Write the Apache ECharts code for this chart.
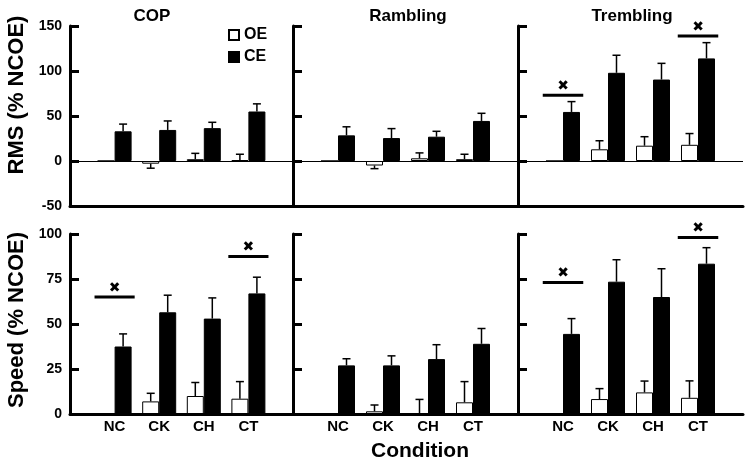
<!DOCTYPE html>
<html><head><meta charset="utf-8">
<script src="https://cdn.jsdelivr.net/npm/echarts@6/dist/echarts.min.js"></script>
<style>html,body{margin:0;padding:0;background:#fff}#c{width:749px;height:463px}</style>
</head><body><div id="c"></div>
<script>
// ---------- data ----------
const categories = ['NC', 'CK', 'CH', 'CT'];
const panelTitles = ['COP', 'Rambling', 'Trembling'];
const legendNames = ['OE', 'CE'];
const rowNames = ['RMS (% NCOE)', 'Speed (% NCOE)'];
const xTitle = 'Condition';

// RMS (top row)
const rmsCopOE = [0, -3, 2, 1];
const rmsCopOEErr = [0, 5, 6.5, 6.5];
const rmsCopCE = [33, 34.5, 36.5, 55];
const rmsCopCEErr = [8, 10, 6.5, 8.5];
const rmsRamOE = [0, -5, 3, 2];
const rmsRamOEErr = [0, 3.5, 6, 5.5];
const rmsRamCE = [28.5, 25.5, 27, 44.5];
const rmsRamCEErr = [9.5, 10.5, 6, 8.5];
const rmsTreOE = [0, 13, 17, 18];
const rmsTreOEErr = [0, 9.5, 10, 12.5];
const rmsTreCE = [54.5, 98, 90.5, 114];
const rmsTreCEErr = [11.5, 19.5, 18, 17.5];
const rmsCopSig = [null, null, null, null];
const rmsRamSig = [null, null, null, null];
const rmsTreSig = [73, null, null, 139];

// Speed (bottom row)
const spdCopOE = [0, 7, 10, 8.5];
const spdCopOEErr = [0, 4.5, 7.5, 9.5];
const spdCopCE = [37.5, 56.5, 53, 67];
const spdCopCEErr = [7, 9.5, 11.5, 9];
const spdRamOE = [0, 1.5, 0.3, 6.5];
const spdRamOEErr = [0, 3.5, 7.8, 11.5];
const spdRamCE = [27, 27, 30.5, 39];
const spdRamCEErr = [3.7, 5.3, 8, 8.5];
const spdTreOE = [0, 8.3, 12, 9];
const spdTreOEErr = [0, 5.8, 6.3, 9.4];
const spdTreCE = [44.5, 73.5, 65, 83.5];
const spdTreCEErr = [8.5, 12.2, 15.7, 8.9];
const spdCopSig = [65, null, null, 87.5];
const spdRamSig = [null, null, null, null];
const spdTreSig = [73, null, null, 98];

// axis scales
const rmsMin = -50, rmsMax = 150, rmsStep = 50;
const spdMin = 0, spdMax = 100, spdStep = 25;

// ---------- layout / style ----------
const FONT = 'Liberation Sans, Arial, sans-serif';
const BAR_W = 17;
const colLeft = [70, 293, 518];
const colWidth = [223, 225, 225];
const rowTop = [26, 234];
const rowHeight = 180;

const panels = [
  {r:0,c:0,oe:rmsCopOE,oeE:rmsCopOEErr,ce:rmsCopCE,ceE:rmsCopCEErr,sig:rmsCopSig},
  {r:0,c:1,oe:rmsRamOE,oeE:rmsRamOEErr,ce:rmsRamCE,ceE:rmsRamCEErr,sig:rmsRamSig},
  {r:0,c:2,oe:rmsTreOE,oeE:rmsTreOEErr,ce:rmsTreCE,ceE:rmsTreCEErr,sig:rmsTreSig},
  {r:1,c:0,oe:spdCopOE,oeE:spdCopOEErr,ce:spdCopCE,ceE:spdCopCEErr,sig:spdCopSig},
  {r:1,c:1,oe:spdRamOE,oeE:spdRamOEErr,ce:spdRamCE,ceE:spdRamCEErr,sig:spdRamSig},
  {r:1,c:2,oe:spdTreOE,oeE:spdTreOEErr,ce:spdTreCE,ceE:spdTreCEErr,sig:spdTreSig}
];

const axisCats = [''].concat(categories, ['']);
const pad = arr => ['-'].concat(arr, ['-']);

function renderErr(params, api) {
  const ci = api.value(0), v = api.value(1), e = api.value(2), side = api.value(3);
  if (!e) return null;
  const dir = v < 0 ? -1 : 1;
  const p0 = api.coord([ci, v]);
  const p1 = api.coord([ci, v + dir * e]);
  const x = p0[0] + side * BAR_W / 2;
  const cap = 4;
  return {type:'group', children:[
    {type:'line', shape:{x1:x, y1:p0[1], x2:x, y2:p1[1]}, style:{stroke:'#000', lineWidth:1.5}},
    {type:'line', shape:{x1:x-cap, y1:p1[1], x2:x+cap, y2:p1[1]}, style:{stroke:'#000', lineWidth:1.5}}
  ]};
}
function renderSig(params, api) {
  const ci = api.value(0), lv = api.value(1);
  const p = api.coord([ci, lv]);
  const hw = api.size([1, 0])[0] * 0.45;
  return {type:'group', children:[
    {type:'line', shape:{x1:p[0]-hw, y1:p[1], x2:p[0]+hw, y2:p[1]}, style:{stroke:'#000', lineWidth:3}},
    {type:'text', style:{text:'\u2716', x:p[0], y:p[1]-2, align:'center', verticalAlign:'bottom', fill:'#000', font:'bold 14px DejaVu Sans'}}
  ]};
}

const grid = [], xAxis = [], yAxis = [], series = [];
panels.forEach((p, k) => {
  grid.push({left: colLeft[p.c], width: colWidth[p.c], top: rowTop[p.r], height: rowHeight});
  xAxis.push({
    type:'category', gridIndex:k, data:axisCats, boundaryGap:false, z:10,
    axisLine:{onZero:false, lineStyle:{color:'#000', width:3}},
    axisTick:{show:false},
    axisLabel:{show:p.r === 1, interval:0, margin:5, color:'#000', fontSize:15, fontWeight:'bold', fontFamily:FONT}
  });
  yAxis.push({
    type:'value', gridIndex:k, z:10,
    min: p.r === 0 ? rmsMin : spdMin, max: p.r === 0 ? rmsMax : spdMax, interval: p.r === 0 ? rmsStep : spdStep,
    axisLine:{show:true, lineStyle:{color:'#000', width:3}},
    axisTick:{show:true, inside:true, length:9, lineStyle:{color:'#000', width:3}},
    splitLine:{show:false},
    axisLabel:{show:p.c === 0, margin:8, color:'#000', fontSize:14, fontWeight:'bold', fontFamily:FONT}
  });
  series.push({
    name:'OE', type:'bar', xAxisIndex:k, yAxisIndex:k, data:pad(p.oe), barWidth:BAR_W, barGap:'0%',
    itemStyle:{color:'#fff', borderColor:'#000', borderWidth:1}
  });
  const ce = {
    name:'CE', type:'bar', xAxisIndex:k, yAxisIndex:k, data:pad(p.ce), barWidth:BAR_W, barGap:'0%',
    itemStyle:{color:'#000', borderColor:'#000', borderWidth:1}
  };
  if (p.r === 0) {
    ce.markLine = {silent:true, symbol:['none','none'], label:{show:false},
      lineStyle:{color:'#000', width:1, type:'solid'}, data:[{yAxis:0}]};
  }
  series.push(ce);
  const errData = [];
  categories.forEach((c, i) => {
    errData.push([i + 1, p.oe[i], p.oeE[i], -1]);
    errData.push([i + 1, p.ce[i], p.ceE[i], 1]);
  });
  series.push({name:'err'+k, type:'custom', xAxisIndex:k, yAxisIndex:k, renderItem:renderErr, data:errData, z:3});
  const sigData = [];
  p.sig.forEach((lv, i) => { if (lv != null) sigData.push([i + 1, lv]); });
  if (sigData.length) series.push({name:'sig'+k, type:'custom', xAxisIndex:k, yAxisIndex:k, renderItem:renderSig, data:sigData, z:4});
});

const titleX = [152, 408, 632];
const graphic = [];
panelTitles.forEach((t, i) => graphic.push({type:'text', x:titleX[i], y:16,
  style:{text:t, fill:'#000', font:'bold 17px ' + FONT, align:'center', verticalAlign:'middle'}}));
graphic.push({type:'text', x:17, y:95, rotation:Math.PI/2,
  style:{text:rowNames[0], fill:'#000', font:'bold 22px ' + FONT, align:'center', verticalAlign:'middle'}});
graphic.push({type:'text', x:17, y:320, rotation:Math.PI/2,
  style:{text:rowNames[1], fill:'#000', font:'bold 22px ' + FONT, align:'center', verticalAlign:'middle'}});
graphic.push({type:'text', x:420, y:451,
  style:{text:xTitle, fill:'#000', font:'bold 21px ' + FONT, align:'center', verticalAlign:'middle'}});

const chart = echarts.init(document.getElementById('c'), null, {renderer:'canvas'});
chart.setOption({
  animation:false,
  backgroundColor:'#fff',
  legend:{data:legendNames, orient:'vertical', left:223, top:22, itemWidth:10, itemHeight:10, itemGap:6, icon:'rect',
    textStyle:{color:'#000', fontSize:16, fontWeight:'bold', fontFamily:FONT}},
  grid, xAxis, yAxis, series, graphic
});
</script></body></html>
